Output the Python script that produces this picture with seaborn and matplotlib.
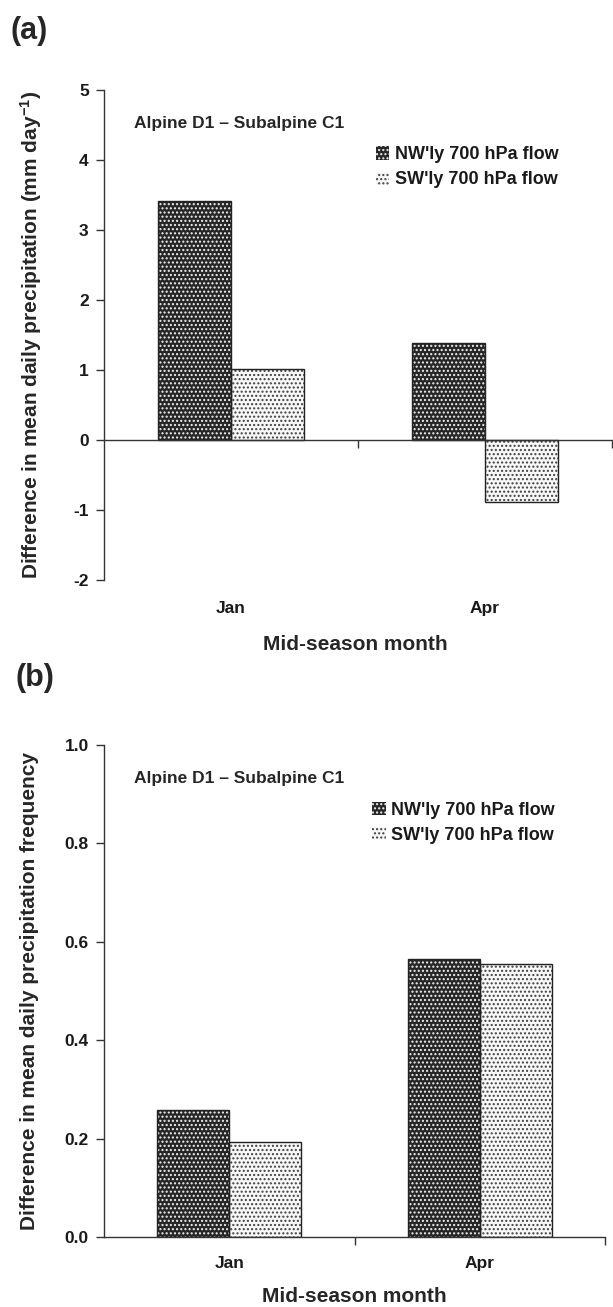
import matplotlib
matplotlib.use("Agg")
import matplotlib.pyplot as plt
import seaborn as sns
import pandas as pd
from matplotlib.patches import Patch, Rectangle

# ---------------- data ----------------
months = ["Jan", "Apr"]
flows = ["NW'ly 700 hPa flow", "SW'ly 700 hPa flow"]
precip_nw = [3.41, 1.38]
precip_sw = [1.01, -0.88]
freq_nw = [0.258, 0.566]
freq_sw = [0.193, 0.555]
yticks_a = [-2, -1, 0, 1, 2, 3, 4, 5]
yticks_b = [0.0, 0.2, 0.4, 0.6, 0.8, 1.0]
yticklabels_b = ["0.0", "0.2", "0.4", "0.6", "0.8", "1.0"]
annotation = "Alpine D1 \u2013 Subalpine C1"
xlabel = "Mid-season month"
ylabel_a = "Difference in mean daily precipitation (mm day$^{-1}$)"
ylabel_b = "Difference in mean daily precipitation frequency"
panel_labels = ["(a)", "(b)"]

# ---------------- style ----------------
sns.set_theme(style="ticks")
plt.rcParams["font.family"] = ["Liberation Sans", "DejaVu Sans"]
plt.rcParams["font.weight"] = "bold"
plt.rcParams["axes.labelweight"] = "bold"
plt.rcParams["mathtext.fontset"] = "custom"
plt.rcParams["mathtext.rm"] = "Liberation Sans:bold"
plt.rcParams["mathtext.bf"] = "Liberation Sans:bold"
plt.rcParams["mathtext.default"] = "bf"
plt.rcParams["hatch.linewidth"] = 1.0

DARK_FACE, DARK_HATCH = "#262626", "#f0f0f0"
LIGHT_FACE, LIGHT_HATCH = "#f8f8f8", "#404040"
AX_COLOR = "#333333"
TICK_FS = 12.5
LABEL_FS = 15

fig = plt.figure(figsize=(6.13, 13.07), dpi=100)
ax_a = fig.add_axes([104 / 613, 1 - 580 / 1307, 508 / 613, 490 / 1307])
ax_b = fig.add_axes([104 / 613, 1 - 1237 / 1307, 501 / 613, 492 / 1307])


def draw(ax, nw, sw):
    df = pd.DataFrame({
        "month": months * 2,
        "flow": [flows[0]] * len(months) + [flows[1]] * len(months),
        "value": list(nw) + list(sw),
    })
    sns.barplot(data=df, x="month", y="value", hue="flow", order=months,
                hue_order=flows, palette=[DARK_FACE, LIGHT_FACE], width=0.575,
                gap=0, saturation=1, legend=False, errorbar=None,
                linewidth=0, ax=ax)
    bars = list(ax.patches)
    dark_r = matplotlib.colors.to_rgba(DARK_FACE)[0]
    for p in bars:
        dark = abs(p.get_facecolor()[0] - dark_r) < 0.05
        p.set_hatch("....")
        p.set_edgecolor(DARK_HATCH if dark else LIGHT_HATCH)
        p.set_linewidth(0)
        ax.add_patch(Rectangle(p.get_xy(), p.get_width(), p.get_height(),
                               fill=False, edgecolor="#222222", linewidth=1.0,
                               zorder=p.get_zorder() + 0.1))
    ax.set_xlim(-0.5, len(months) - 0.5)
    sns.despine(ax=ax)
    for s in ("left", "bottom"):
        ax.spines[s].set_color(AX_COLOR)
        ax.spines[s].set_linewidth(1.0)
    ax.set_xlabel(xlabel, fontsize=LABEL_FS, fontweight="bold")
    ax.text(0.059, 0.932, annotation, transform=ax.transAxes, fontsize=12.5,
            fontweight="bold", ha="left", va="center")
    handles = [Patch(facecolor=DARK_FACE, edgecolor=DARK_HATCH, hatch="....", linewidth=0),
               Patch(facecolor=LIGHT_FACE, edgecolor=LIGHT_HATCH, hatch="....", linewidth=0)]
    leg = ax.legend(handles, flows, loc="upper left", bbox_to_anchor=(0.535, 0.885),
                    frameon=False, prop={"weight": "bold", "size": 13},
                    handlelength=0.75, handleheight=0.75, handletextpad=0.3,
                    labelspacing=0.45, borderpad=0, borderaxespad=0)
    for t in leg.get_texts():
        t.set_color("#1a1a1a")


def finish_ticks(ax, pad):
    ax.set_xticks([0.5, 1.5])
    ax.set_xticklabels([])
    ax.set_xticks(range(len(months)), minor=True)
    ax.set_xticklabels(months, minor=True)
    ax.tick_params(axis="x", which="major", direction="out", length=6,
                   width=1.0, color=AX_COLOR)
    ax.tick_params(axis="x", which="minor", length=0, pad=pad,
                   labelsize=TICK_FS, labelcolor="#1a1a1a")
    ax.tick_params(axis="y", which="major", direction="out", length=6,
                   width=1.0, color=AX_COLOR, labelsize=TICK_FS, pad=5,
                   labelcolor="#1a1a1a")
    for lab in ax.get_xticklabels(minor=True) + ax.get_yticklabels():
        lab.set_fontweight("bold")


# panel (a)
draw(ax_a, precip_nw, precip_sw)
ax_a.set_ylim(-2, 5)
ax_a.set_yticks(yticks_a)
ax_a.set_yticklabels([str(v) for v in yticks_a])
ax_a.spines["bottom"].set_position(("data", 0))
finish_ticks(ax_a, 116)
ax_a.set_ylabel(ylabel_a, fontsize=LABEL_FS, fontweight="bold")
ax_a.yaxis.set_label_coords(-0.118, 0.5)
ax_a.xaxis.set_label_coords(0.494, -0.112)

# panel (b)
draw(ax_b, freq_nw, freq_sw)
ax_b.set_ylim(0, 1.0)
ax_b.set_yticks(yticks_b)
ax_b.set_yticklabels(yticklabels_b)
finish_ticks(ax_b, 14)
ax_b.set_ylabel(ylabel_b, fontsize=LABEL_FS, fontweight="bold")
ax_b.yaxis.set_label_coords(-0.13, 0.5)
ax_b.xaxis.set_label_coords(0.5, -0.102)

fig.text(29 / 613, 1 - 31 / 1307, panel_labels[0], fontsize=22,
         fontweight="bold", ha="center", va="center")
fig.text(35 / 613, 1 - 678 / 1307, panel_labels[1], fontsize=22,
         fontweight="bold", ha="center", va="center")

fig.savefig("out.png", dpi=100)
